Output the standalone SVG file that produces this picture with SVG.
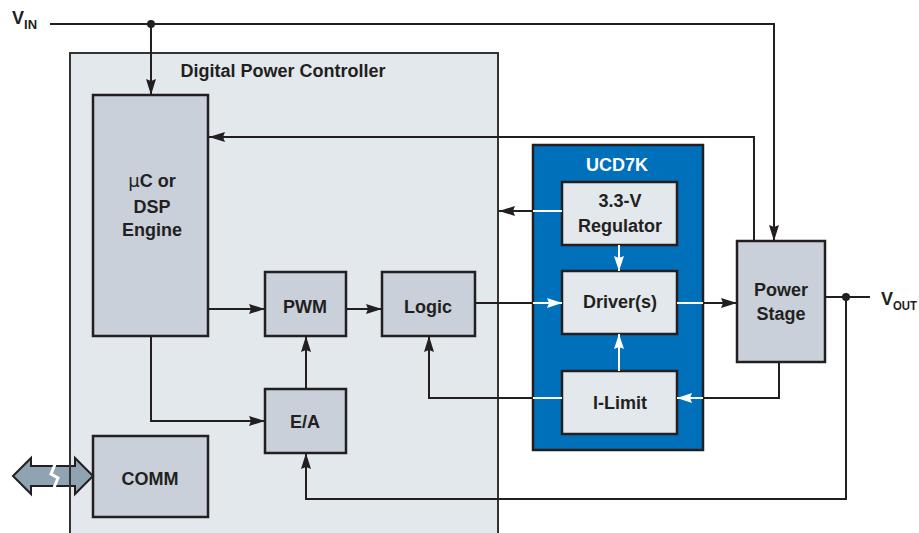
<svg xmlns="http://www.w3.org/2000/svg" width="919" height="533" viewBox="0 0 919 533">
<defs>
<style>
.t{font-family:"Liberation Sans Narrow","Liberation Sans",Arial,sans-serif;font-weight:bold;font-size:18px;fill:#231f20;text-anchor:middle}
.tw{fill:#ffffff}
.box{fill:#c9d0da;stroke:#231f20;stroke-width:2.5}
.lbox{fill:#e3e8ed;stroke:#231f20;stroke-width:2.5}
.ln{fill:none;stroke:#231f20;stroke-width:2}
.wl{fill:none;stroke:#ffffff;stroke-width:2}
</style>
<marker id="ab" markerUnits="userSpaceOnUse" markerWidth="16" markerHeight="10" refX="16" refY="5" orient="auto" overflow="visible">
<path d="M0,0 L16,5 L0,10 L2,5 z" fill="#231f20"/>
</marker>
<marker id="aw" markerUnits="userSpaceOnUse" markerWidth="15" markerHeight="10" refX="15" refY="5" orient="auto" overflow="visible">
<path d="M0,0 L15,5 L0,10 L2,5 z" fill="#ffffff"/>
</marker>
</defs>
<rect x="0" y="0" width="919" height="533" fill="#ffffff"/>

<g id="dpc">
<rect x="70" y="53" width="428" height="490" fill="#e3e8ed" stroke="#333333" stroke-width="2"/>
<text class="t" x="283" y="77">Digital Power Controller</text>
</g>

<g id="ucd7k">
<rect x="533" y="145" width="170" height="305" fill="#0070bb" stroke="#231f20" stroke-width="2.5"/>
<text class="t tw" x="617" y="171">UCD7K</text>
</g>

<g id="uc">
<rect class="box" x="93" y="95" width="115" height="241"/>
<text class="t" x="152" y="187"><tspan font-family="'DejaVu Sans',sans-serif" font-weight="normal">μ</tspan>C or</text>
<text class="t" x="152" y="213">DSP</text>
<text class="t" x="152" y="236">Engine</text>
</g>

<g id="pwm">
<rect class="box" x="265" y="272" width="81" height="64"/>
<text class="t" x="305" y="313">PWM</text>
</g>

<g id="logic">
<rect class="box" x="382" y="272" width="93" height="64"/>
<text class="t" x="428" y="313">Logic</text>
</g>

<g id="ea">
<rect class="box" x="265" y="389" width="81" height="64"/>
<text class="t" x="305" y="428">E/A</text>
</g>

<g id="comm">
<rect class="box" x="93" y="436" width="115" height="81"/>
<text class="t" x="150" y="485">COMM</text>
</g>

<g id="reg">
<rect class="lbox" x="562" y="182" width="115" height="63"/>
<text class="t" x="620" y="207">3.3-V</text>
<text class="t" x="620" y="232">Regulator</text>
</g>

<g id="drv">
<rect class="lbox" x="562" y="271" width="115" height="63"/>
<text class="t" x="620" y="308">Driver(s)</text>
</g>

<g id="ilim">
<rect class="lbox" x="562" y="371" width="115" height="63"/>
<text class="t" x="620" y="409">I-Limit</text>
</g>

<g id="ps">
<rect class="box" x="737" y="241" width="88" height="121"/>
<text class="t" x="781" y="296">Power</text>
<text class="t" x="781" y="320">Stage</text>
</g>

<g id="vin">
<text class="t" x="12" y="24" style="text-anchor:start">V<tspan font-size="13" dy="5">IN</tspan></text>
</g>

<g id="vout">
<text class="t" x="881" y="305" style="text-anchor:start">V<tspan font-size="13" dy="5" textLength="24" lengthAdjust="spacingAndGlyphs">OUT</tspan></text>
</g>

<g id="connectors">
<path class="ln" d="M50,24 H774 V241" marker-end="url(#ab)"/>
<path class="ln" d="M151,24 V95" marker-end="url(#ab)"/>
<circle cx="151" cy="24" r="4" fill="#231f20"/>
<path class="ln" d="M754,241 V137 H209" marker-end="url(#ab)"/>
<path class="ln" d="M208,309 H265" marker-end="url(#ab)"/>
<path class="ln" d="M346,309 H382" marker-end="url(#ab)"/>
<path class="ln" d="M475,303 H533"/>
<path class="wl" d="M533,303 H562" marker-end="url(#aw)"/>
<path class="wl" d="M677,303 H703"/>
<path class="ln" d="M703,303 H737" marker-end="url(#ab)"/>
<path class="wl" d="M562,211 H533"/>
<path class="ln" d="M533,211 H499" marker-end="url(#ab)"/>
<path class="wl" d="M619,245 V271" marker-end="url(#aw)"/>
<path class="wl" d="M619,371 V334" marker-end="url(#aw)"/>
<path class="wl" d="M562,398 H533"/>
<path class="ln" d="M533,398 H429 V336" marker-end="url(#ab)"/>
<path class="ln" d="M779,362 V398 H703"/>
<path class="wl" d="M703,398 H677" marker-end="url(#aw)"/>
<path class="ln" d="M151,336 V421 H265" marker-end="url(#ab)"/>
<path class="ln" d="M306,389 V336" marker-end="url(#ab)"/>
<path class="ln" d="M825,297 H870"/>
<circle cx="846" cy="297" r="4" fill="#231f20"/>
<path class="ln" d="M846,297 V499 H306 V453" marker-end="url(#ab)"/>
<polygon points="13,476 31,458 31,466 75,466 75,458 93,476 75,494 75,486 31,486 31,494" fill="#8fa3b3" stroke="#231f20" stroke-width="2" stroke-linejoin="miter"/>
<polyline points="56,462 51,474 58,478 53,490" fill="none" stroke="#ffffff" stroke-width="3"/>
<line x1="70" y1="455" x2="70" y2="497" stroke="#333333" stroke-width="2"/>
</g>
</svg>
